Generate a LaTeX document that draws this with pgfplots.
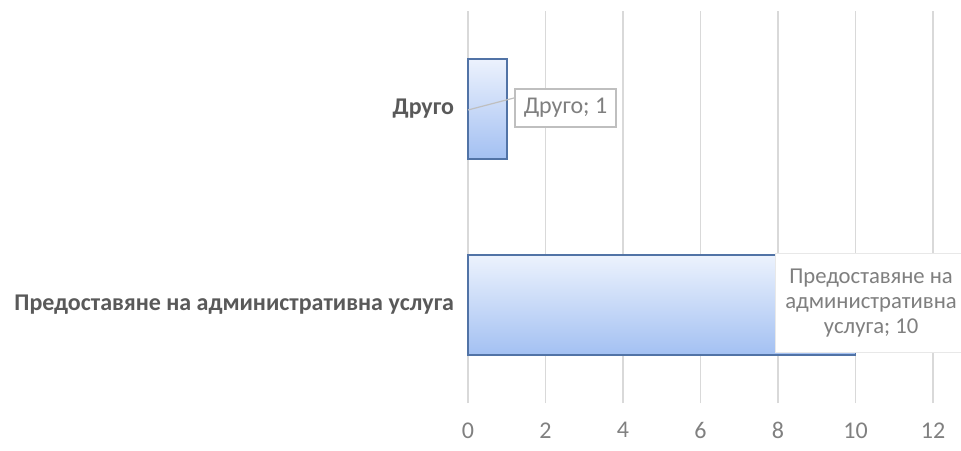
\documentclass[border=0pt]{standalone}
\usepackage{pgfplots}
\pgfplotsset{compat=1.18}
\usepackage{fontspec}
\setmainfont{Carlito}
\definecolor{gridc}{HTML}{D9D9D9}
\definecolor{cattxt}{HTML}{595959}
\definecolor{ticktxt}{HTML}{808080}
\definecolor{lbltxt}{HTML}{7F7F7F}
\definecolor{lblbox}{HTML}{BFBFBF}
\definecolor{barTop}{HTML}{ECF2FD}
\definecolor{barBot}{HTML}{A3C0F2}
\definecolor{barEdge}{HTML}{5173A6}
\begin{document}
\begin{tikzpicture}
\begin{axis}[
  x=29.06pt, y=147pt,
  xmin=0, xmax=12, ymin=-0.5, ymax=1.5,
  xbar, bar width=75pt, bar shift=0pt,
  clip=false,
  axis line style={draw=none},
  major tick length=0pt,
  xmajorgrids, ymajorgrids=false,
  grid style={gridc, line width=0.9pt},
  xtick={0,2,...,12},
  ytick={0,1},
  yticklabels={Предоставяне на административна услуга, Друго},
  yticklabel style={font=\fontsize{18}{21}\selectfont\bfseries, text=cattxt, xshift=-7pt},
  xticklabel style={font=\fontsize{18}{21}\selectfont, text=ticktxt, yshift=-11pt},
  /pgf/number format/assume math mode=true,
]
\addplot[xbar, draw=barEdge, line width=1.2pt, top color=barTop, bottom color=barBot]
  coordinates {(10,0)};
\addplot[xbar, draw=barEdge, line width=1.2pt, top color=barTop, bottom color=barBot]
  coordinates {(1,1)};
% leader line and label for "Друго"
\draw[lblbox, line width=0.9pt] (axis cs:0,0.995) -- (axis cs:1.26,1.06);
\node[draw=lblbox, fill=white, line width=0.8pt, text=lbltxt,
  font=\fontsize{18}{21}\selectfont,
  minimum width=75.75pt, minimum height=28.5pt, inner sep=0pt]
  at (axis cs:2.515,1.005) {Друго; 1};
% label for the long bar
\node[fill=white, draw=gridc!60, line width=0.6pt, text=lbltxt, align=center,
  font=\fontsize{17}{18.75}\selectfont,
  minimum width=144pt, minimum height=74.5pt, inner sep=0pt]
  at (axis cs:10.40,0.0125) {Предоставяне на\\административна\\услуга; 10};
\coordinate (bbSW) at (axis cs:-12.077,-0.74);
\coordinate (bbNE) at (axis cs:12.72,1.556);
\end{axis}
\pgfresetboundingbox
\path[use as bounding box] (bbSW) rectangle (bbNE);
\end{tikzpicture}
\end{document}
